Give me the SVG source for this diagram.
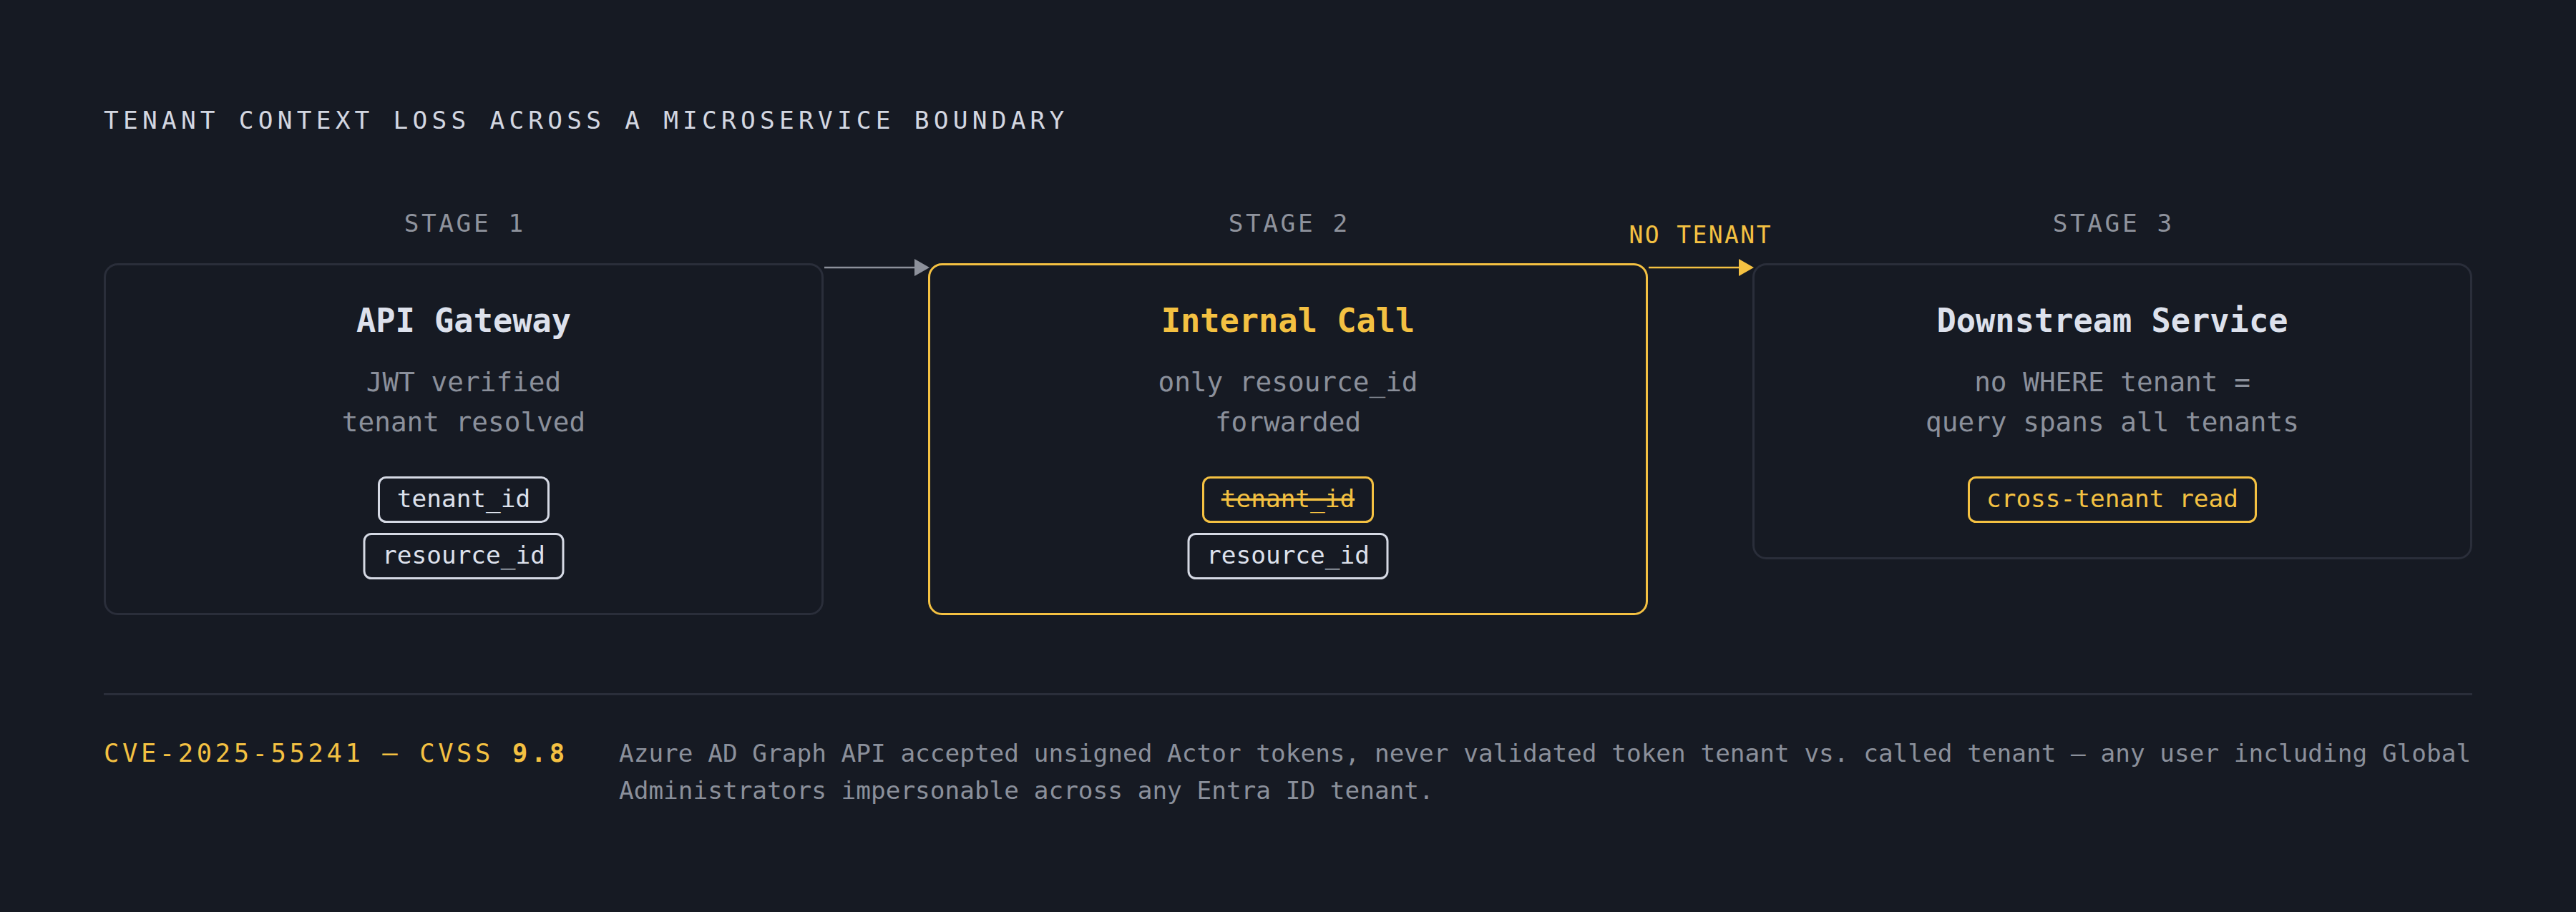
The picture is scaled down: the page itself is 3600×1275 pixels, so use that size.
<svg xmlns="http://www.w3.org/2000/svg" width="3600" height="1275" viewBox="0 0 3600 1275">
  <defs>
    <style>
      text { font-family: "DejaVu Sans Mono", "Liberation Mono", monospace; }
      .header { font-size: 34.5px; letter-spacing: 6.2px; fill: #d3d7e1; }
      .stage { font-size: 34.5px; letter-spacing: 3.5px; fill: #8f939d; text-anchor: middle; }
      .box { fill: #161a23; stroke: #2a2e3a; stroke-width: 3; }
      .box-hot { fill: #161a23; stroke: #f4c142; stroke-width: 3; }
      .title { font-size: 45.3px; font-weight: bold; fill: #dde1ec; text-anchor: middle; }
      .title-hot { fill: #f4c142; }
      .desc { font-size: 37.7px; fill: #8b909b; text-anchor: middle; }
      .pill { fill: none; stroke: #d5d9e4; stroke-width: 3; }
      .pill-hot { fill: none; stroke: #f4c142; stroke-width: 3; }
      .pill-text { font-size: 34.4px; fill: #dde1ec; text-anchor: middle; }
      .pill-text-hot { fill: #f4c142; }
      .edge { stroke: #8d919b; stroke-width: 2.5; fill: none; }
      .edge-hot { stroke: #f4c142; stroke-width: 2.5; fill: none; }
      .edge-label { font-size: 33px; letter-spacing: 2.4px; fill: #f4c142; text-anchor: middle; }
      .cve { font-size: 35.5px; letter-spacing: 4.58px; fill: #f4c142; }
      .note { font-size: 34.4px; fill: #8b909b; }
    </style>
    <marker id="arrow-gray" markerUnits="userSpaceOnUse" viewBox="0 0 21 24" markerWidth="21" markerHeight="24" refX="8" refY="12" orient="auto">
      <path d="M0,0 L21,12 L0,24 Z" fill="#8d919b"/>
    </marker>
    <marker id="arrow-hot" markerUnits="userSpaceOnUse" viewBox="0 0 21 24" markerWidth="21" markerHeight="24" refX="8" refY="12" orient="auto">
      <path d="M0,0 L21,12 L0,24 Z" fill="#f4c142"/>
    </marker>
  </defs>

  <rect x="0" y="0" width="3600" height="1275" fill="#161a23"/>

  <g id="header">
    <text class="header" x="145" y="180">TENANT CONTEXT LOSS ACROSS A MICROSERVICE BOUNDARY</text>
  </g>

  <g id="stage-1">
    <text class="stage" x="649.75" y="324">STAGE 1</text>
    <rect class="box" x="146.5" y="369.5" width="1003" height="489" rx="18"/>
    <text class="title" x="648" y="464">API Gateway</text>
    <text class="desc" x="648" y="547">JWT verified</text>
    <text class="desc" x="648" y="603">tenant resolved</text>
    <rect class="pill" x="529.5" y="667.5" width="237" height="62" rx="10"/>
    <text class="pill-text" x="648" y="709">tenant_id</text>
    <rect class="pill" x="509" y="746.5" width="278" height="62" rx="10"/>
    <text class="pill-text" x="648" y="788">resource_id</text>
  </g>

  <g id="stage-2">
    <text class="stage" x="1801.75" y="324">STAGE 2</text>
    <rect class="box-hot" x="1298.5" y="369.5" width="1003" height="489" rx="18"/>
    <text class="title title-hot" x="1800" y="464">Internal Call</text>
    <text class="desc" x="1800" y="547">only resource_id</text>
    <text class="desc" x="1800" y="603">forwarded</text>
    <rect class="pill-hot" x="1681.5" y="667.5" width="237" height="62" rx="10"/>
    <text class="pill-text pill-text-hot" x="1800" y="709" text-decoration="line-through">tenant_id</text>
    <rect class="pill" x="1661" y="746.5" width="278" height="62" rx="10"/>
    <text class="pill-text" x="1800" y="788">resource_id</text>
  </g>

  <g id="stage-3">
    <text class="stage" x="2953.75" y="324">STAGE 3</text>
    <rect class="box" x="2450.5" y="369.5" width="1003" height="411" rx="18"/>
    <text class="title" x="2952" y="464">Downstream Service</text>
    <text class="desc" x="2952" y="547">no WHERE tenant =</text>
    <text class="desc" x="2952" y="603">query spans all tenants</text>
    <rect class="pill-hot" x="2751.5" y="667.5" width="401" height="62" rx="10"/>
    <text class="pill-text pill-text-hot" x="2952" y="709">cross-tenant read</text>
  </g>

  <g id="connectors">
    <line class="edge" x1="1152" y1="374" x2="1286" y2="374" marker-end="url(#arrow-gray)"/>
    <line class="edge-hot" x1="2304" y1="374" x2="2438" y2="374" marker-end="url(#arrow-hot)"/>
    <text class="edge-label" x="2376.7" y="340">NO TENANT</text>
  </g>

  <g id="footer">
    <line x1="145" y1="970.5" x2="3455" y2="970.5" stroke="#2a2e3a" stroke-width="3"/>
    <text class="cve" x="145" y="1065">CVE-2025-55241 — CVSS <tspan font-weight="bold">9.8</tspan></text>
    <text class="note" x="865" y="1065">Azure AD Graph API accepted unsigned Actor tokens, never validated token tenant vs. called tenant — any user including Global</text>
    <text class="note" x="865" y="1117">Administrators impersonable across any Entra ID tenant.</text>
  </g>
</svg>
